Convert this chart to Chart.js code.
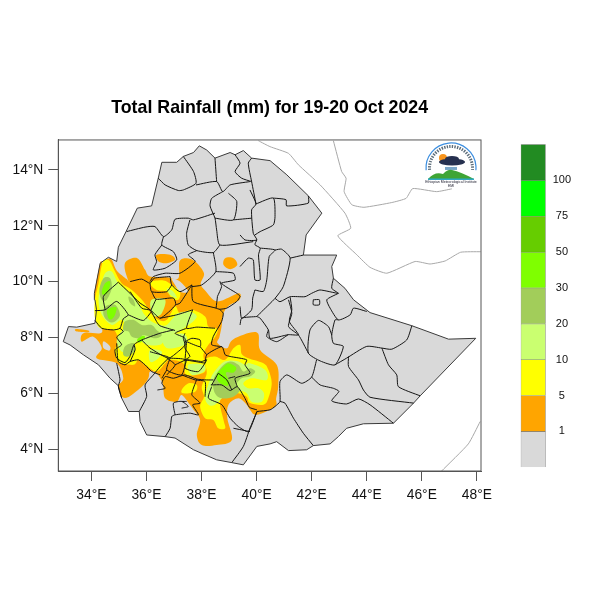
<!DOCTYPE html>
<html>
<head>
<meta charset="utf-8">
<title>Total Rainfall</title>
<script src="https://cdn.jsdelivr.net/npm/chart.js@4"></script>
<style>
html, body { margin: 0; background: #fff; }
canvas { position: absolute; }
</style>
</head>
<body>
<canvas id="mapChart" width="600" height="600" style="left:0;top:0"></canvas>
<canvas id="barChart" width="100" height="350" style="left:500px;top:130px"></canvas>
<script>
// axis ticks, degrees
const lonTicks = [34, 36, 38, 40, 42, 44, 46, 48];
const latTicks = [4, 6, 8, 10, 12, 14];

// colour bar
const barLabels = ['1', '5', '10', '20', '30', '50', '75', '100'];
const barColors = ['#d9d9d9', '#ffa500', '#ffff00', '#caff70', '#a2cd5a', '#7fff00', '#66cd00', '#00ff00', '#228b22'];

// country outline [lon, lat]
const ethiopia = [[34.98,11.23],[35.26,11.79],[35.67,12.63],[36.19,12.71],[36.43,13.70],[36.56,14.27],[37.10,14.27],[37.34,14.48],[37.71,14.62],[37.92,14.86],[38.19,14.71],[38.49,14.42],[39.04,14.62],[39.22,14.54],[39.52,14.69],[39.82,14.42],[40.49,14.33],[41.10,13.82],[41.88,13.07],[42.37,12.45],[41.80,11.67],[41.70,10.95],[42.91,10.95],[42.73,10.54],[42.79,10.12],[43.21,9.76],[43.52,9.35],[44.12,8.89],[45.64,8.42],[46.97,7.94],[47.96,7.97],[45.94,5.91],[45.70,5.65],[44.97,4.93],[43.88,4.91],[43.27,4.75],[42.97,4.45],[42.67,4.19],[42.06,4.13],[41.82,3.98],[41.16,3.95],[40.73,4.27],[40.49,4.19],[40.01,4.10],[39.52,3.44],[39.10,3.52],[38.55,3.62],[37.71,3.98],[37.04,4.40],[36.68,4.45],[36.01,4.51],[35.77,4.99],[35.74,5.35],[35.35,5.35],[35.10,5.83],[34.98,6.27],[34.68,6.54],[34.26,7.02],[33.71,7.38],[33.23,7.73],[32.98,7.85],[33.17,8.39],[33.47,8.37],[34.13,8.51],[34.19,8.99],[34.13,9.35],[34.11,9.58],[34.32,10.66],[34.62,10.87],[34.92,10.72],[34.98,11.23]];

// neighbouring coast and border lines
const neighbourLines = [
  [[40.07,15.04],[40.49,14.83],[41.16,14.59],[41.52,14.18],[42.31,13.46],[43.21,12.45],[43.42,11.91],[42.95,11.64],[43.64,10.96],[44.12,10.51],[44.73,10.30],[45.76,10.72],[46.30,10.63],[46.85,10.74],[47.41,11.05],[48.14,11.07]],
  [[42.79,15.04],[43.09,13.94],[43.25,13.70],[43.18,13.22],[43.46,12.75],[43.90,12.66],[44.91,12.83],[45.43,12.98],[45.67,13.33],[46.54,13.22],[47.09,13.32]],
  [[46.72,3.22],[47.69,4.19],[48.12,4.99]]
];

// rainfall areas by class
const orangeAreas = [
  [[34.41,10.66],[34.56,10.80],[34.74,10.78],[34.92,10.40],[35.28,10.09],[35.35,10.0],[35.22,10.42],[35.26,10.72],[35.67,10.84],[35.95,10.42],[36.13,10.18],[36.74,10.16],[37.16,10.12],[37.20,10.72],[37.46,10.84],[37.77,10.72],[38.09,10.30],[37.97,9.92],[38.13,9.68],[38.58,9.29],[39.34,9.58],[39.38,9.35],[39.04,9.17],[38.86,8.99],[38.77,8.75],[38.73,8.39],[38.65,8.01],[38.58,7.80],[38.92,7.61],[39.16,7.94],[40.01,8.18],[40.13,7.55],[40.73,7.02],[40.79,6.30],[40.71,5.82],[40.67,5.53],[40.01,5.23],[39.76,5.41],[39.64,5.59],[39.34,5.82],[38.98,5.59],[38.94,5.11],[39.10,4.33],[38.55,4.15],[38.01,4.15],[37.83,4.51],[37.95,5.05],[37.71,5.41],[37.58,5.59],[37.28,5.94],[37.10,5.70],[36.68,5.82],[36.59,6.36],[36.37,6.72],[36.13,6.78],[36.07,6.54],[35.83,6.24],[35.22,5.83],[34.98,6.24],[35.16,6.54],[34.92,7.08],[34.19,7.26],[34.38,7.62],[34.07,8.03],[33.65,7.85],[33.71,8.15],[34.32,8.15],[34.38,8.33],[34.19,8.63],[34.19,8.99],[34.13,9.35],[34.11,9.58],[34.32,10.66]],
  [[33.44,8.30],[33.89,8.25],[33.86,8.18],[33.47,8.21]],
  [[36.37,10.96],[36.86,10.96],[37.04,10.78],[36.74,10.66],[36.44,10.72]],
  [[38.86,10.84],[39.16,10.84],[39.30,10.60],[39.04,10.44],[38.80,10.60]]
];
const dryPatches = [
  [[34.44,7.86],[34.68,7.68],[34.65,7.53],[34.44,7.62]],
  [[36.92,10.12],[37.22,10.00],[37.52,9.64],[37.22,9.64],[37.04,9.88]]
];
const yellowAreas = [
  [[34.50,10.78],[34.68,10.72],[34.86,10.36],[35.10,9.94],[35.47,9.70],[35.89,9.29],[36.16,8.87],[36.44,8.63],[36.74,8.63],[37.04,9.11],[37.22,8.87],[37.65,8.99],[38.13,8.75],[38.25,8.39],[38.58,8.30],[38.49,8.01],[38.25,7.74],[38.07,7.38],[38.13,6.78],[37.46,6.66],[37.34,7.08],[36.86,7.20],[36.68,7.08],[36.37,6.78],[35.95,7.02],[35.71,7.20],[35.53,7.02],[34.98,7.14],[34.86,7.56],[34.98,7.79],[34.95,8.03],[34.80,8.27],[34.32,8.33],[34.13,8.69],[34.13,9.35],[34.26,9.94],[34.38,10.60]],
  [[38.13,7.20],[38.49,7.32],[38.86,7.20],[39.16,7.61],[39.40,7.73],[39.46,7.41],[39.70,7.26],[40.25,7.08],[40.43,6.84],[40.55,6.36],[40.43,5.83],[40.25,5.59],[39.76,5.65],[39.64,5.88],[39.34,6.00],[38.98,5.94],[38.67,5.71],[38.80,5.05],[38.86,4.75],[38.61,4.75],[38.43,5.05],[38.13,5.11],[37.95,5.53],[38.09,5.88],[38.01,6.24],[38.19,6.72]],
  [[36.13,9.97],[36.62,10.04],[36.92,9.88],[37.22,9.64],[37.16,9.35],[36.92,9.41],[36.74,9.64],[36.37,9.70]],
  [[37.28,6.12],[37.53,6.36],[37.83,6.30],[37.77,6.06],[37.34,6.00]]
];
const limeAreas = [
  [[34.50,10.30],[34.74,10.36],[34.98,9.94],[35.35,9.64],[35.71,9.23],[35.89,8.87],[36.19,8.57],[36.50,8.45],[36.74,8.45],[37.04,8.75],[37.52,8.87],[37.71,8.69],[37.40,8.37],[37.04,8.15],[36.74,8.01],[36.50,7.74],[36.01,7.74],[35.77,7.91],[35.59,7.80],[35.35,7.56],[35.10,7.50],[34.92,7.85],[35.04,8.15],[35.22,8.39],[35.10,8.63],[34.74,8.45],[34.38,8.81],[34.26,9.35],[34.38,9.94]],
  [[36.62,8.03],[37.34,8.13],[37.46,7.79],[36.98,7.61],[36.68,7.67]],
  [[37.52,7.02],[38.07,7.02],[38.09,6.78],[37.65,6.66]],
  [[36.13,7.55],[36.56,7.49],[36.37,7.20],[36.13,7.14]],
  [[38.43,6.72],[38.74,7.08],[38.98,7.17],[39.34,7.14],[39.58,7.02],[39.76,7.08],[40.31,6.84],[40.37,6.48],[39.82,6.54],[39.52,6.36],[39.70,6.18],[40.07,6.18],[40.27,6.00],[40.19,5.70],[39.82,5.70],[39.64,6.00],[39.34,6.10],[39.04,6.06],[38.74,5.82],[38.49,5.59],[38.25,5.59],[38.13,5.88],[38.29,6.42]],
  [[36.74,9.76],[36.98,9.64],[37.10,9.41],[36.86,9.53]],
  [[36.19,9.35],[36.68,9.35],[36.56,8.87],[36.31,8.75],[36.16,8.99]],
  [[37.04,8.81],[37.52,8.93],[37.83,8.75],[37.52,8.45],[37.16,8.45]]
];
const oliveAreas = [
  [[34.44,10.12],[34.68,10.12],[34.74,9.76],[34.56,9.35],[34.38,9.35],[34.29,9.70]],
  [[34.50,9.11],[34.86,9.17],[35.04,8.81],[34.86,8.57],[34.62,8.57],[34.44,8.81]],
  [[35.35,9.46],[35.53,9.35],[35.59,9.11],[35.41,9.23]],
  [[35.22,8.57],[35.53,8.63],[35.83,8.45],[36.19,8.45],[36.37,8.27],[36.56,8.09],[36.31,7.97],[35.89,8.09],[35.77,7.97],[35.47,8.03],[35.35,8.21],[35.16,8.27]],
  [[35.22,7.68],[35.53,7.80],[35.59,7.56],[35.35,7.32],[35.16,7.38]],
  [[38.74,6.96],[39.04,7.14],[39.34,7.02],[39.52,6.78],[39.76,6.90],[39.95,6.78],[39.76,6.60],[39.46,6.54],[39.26,6.30],[39.40,6.12],[39.16,5.88],[38.74,5.82],[38.49,6.00],[38.43,6.48]]
];
const brightAreas = [
  [[34.50,9.94],[34.68,10.0],[34.62,9.64],[34.44,9.53],[34.38,9.64]],
  [[34.58,8.99],[34.90,9.08],[34.86,8.81],[34.74,8.65],[34.62,8.69]],
  [[35.67,7.94],[35.87,8.06],[35.95,8.01],[35.83,7.86],[35.71,7.82]],
  [[38.80,6.96],[38.98,7.08],[39.26,6.93],[39.16,6.74],[38.89,6.74],[39.01,6.36],[38.86,6.27],[38.61,6.42],[38.55,6.68]]
];

// admin boundaries
const adminLines = [
  [[37.34,14.48],[37.71,13.94],[37.80,13.52],[37.34,13.28],[37.16,13.26],[36.68,13.46],[36.43,13.70]],
  [[37.80,13.46],[38.55,13.58],[38.77,13.22],[39.04,13.46],[39.76,13.58]],
  [[38.49,14.42],[38.55,13.58]],
  [[39.22,14.54],[39.40,14.24],[39.22,13.94],[39.46,13.70],[39.82,13.58]],
  [[39.82,14.42],[39.70,14.24],[39.82,13.58],[39.98,12.78]],
  [[38.77,13.22],[38.37,12.98],[38.31,12.71],[38.49,12.27],[38.55,11.85],[38.67,11.31],[39.88,11.43]],
  [[38.98,13.16],[39.28,12.87],[39.16,12.21],[38.49,12.27]],
  [[39.16,12.21],[39.82,12.27]],
  [[38.49,12.45],[37.71,12.21],[37.52,12.27],[37.04,12.23],[36.92,11.85],[36.62,11.61],[36.31,11.97],[35.95,11.95],[35.28,11.79]],
  [[37.58,12.21],[37.46,11.73],[37.52,11.31],[37.83,11.11],[38.43,11.04],[38.67,11.31]],
  [[36.62,11.61],[36.56,11.31],[36.98,11.07],[37.10,10.78],[36.68,10.48],[36.25,10.42],[36.37,10.72],[36.31,10.96],[36.56,11.31]],
  [[37.83,11.11],[37.52,10.96],[37.77,10.72],[37.22,10.30],[36.68,10.30],[36.25,10.18],[36.13,10.0]],
  [[38.43,11.04],[38.52,10.36],[38.01,9.88],[37.65,9.82]],
  [[38.52,10.36],[39.16,10.30],[39.22,10.06],[38.73,9.94],[39.28,9.58],[39.40,9.47],[39.28,9.29],[38.92,9.05],[38.65,9.01],[38.53,9.05],[37.70,9.29],[37.65,9.88]],
  [[39.76,13.28],[39.98,12.78],[39.82,12.57],[39.88,11.73],[40.01,11.49],[39.58,11.49],[39.40,11.67]],
  [[39.98,12.78],[40.61,12.99],[40.67,12.33],[40.61,12.03],[40.13,11.79],[39.94,11.67]],
  [[40.61,12.99],[41.07,12.93],[41.09,12.71],[41.88,12.81],[41.88,13.07]],
  [[40.01,11.49],[39.94,11.32],[40.13,11.20],[40.07,10.96],[40.13,10.06],[39.94,10.06],[39.88,10.78],[39.70,10.84],[39.40,10.54]],
  [[40.13,11.20],[40.67,11.13],[40.46,10.90],[40.37,10.06],[40.25,9.65],[39.94,9.70]],
  [[40.67,11.13],[40.91,11.16],[41.22,10.84],[40.97,9.82],[40.67,9.40],[40.13,8.87],[40.01,8.75]],
  [[41.22,10.84],[41.70,10.95]],
  [[39.94,9.70],[39.86,9.41],[39.82,8.99],[39.46,8.69],[39.40,9.11]],
  [[40.01,8.75],[39.46,8.69],[39.40,8.45]],
  [[42.79,10.12],[42.73,9.76],[42.97,9.58],[42.30,9.70],[42.00,9.58],[41.76,9.46],[41.22,9.46],[40.85,9.28],[40.67,9.40]],
  [[41.22,9.44],[41.28,8.99],[41.19,8.57],[41.52,8.10],[41.15,8.10],[40.49,7.97],[40.43,8.27],[40.13,8.69],[40.01,8.75]],
  [[42.97,9.58],[42.55,9.35],[42.67,9.05],[42.97,8.63],[43.40,8.81],[43.52,9.05],[44.00,8.93]],
  [[42.97,8.63],[42.85,8.63],[42.73,8.09],[42.79,7.79],[43.15,7.68],[42.85,7.02],[42.31,7.16],[41.88,7.44],[41.94,8.27],[42.25,8.61],[42.61,8.39],[42.73,8.09]],
  [[41.16,9.35],[41.28,8.87],[41.16,8.39],[41.52,8.09],[41.88,7.44]],
  [[42.85,7.02],[43.27,7.26],[44.00,7.68],[44.55,7.62],[44.91,7.58],[45.45,7.91],[45.64,8.42]],
  [[44.55,7.62],[44.79,7.02],[45.09,6.66],[45.15,6.24],[45.94,5.91]],
  [[43.34,7.32],[43.34,6.96],[43.70,6.48],[43.88,6.12],[44.12,5.86],[45.70,5.65]],
  [[42.18,7.20],[42.00,6.58],[41.64,6.36],[41.10,6.66],[40.85,6.42],[40.85,5.71],[40.67,5.53],[40.49,5.41],[40.01,5.35]],
  [[42.00,6.58],[42.31,6.30],[42.79,6.18],[42.99,6.07],[42.73,5.73],[43.27,5.62],[43.70,5.80],[44.12,5.59],[44.97,4.93]],
  [[40.85,5.71],[41.03,5.65],[41.34,5.11],[41.70,4.57],[42.06,4.13]],
  [[42.06,9.35],[42.28,9.35],[42.28,9.17],[42.06,9.17],[42.06,9.35]],
  [[40.43,8.27],[40.37,8.03],[40.73,7.85],[41.15,8.10]],
  [[40.01,5.41],[39.74,5.50],[39.58,5.82],[39.30,6.24],[39.04,6.10],[38.74,6.30],[38.34,6.30]],
  [[39.30,6.24],[39.22,6.54],[39.76,6.72],[39.58,7.02],[39.64,7.20],[39.04,7.32],[38.86,7.38],[38.74,7.67],[38.19,7.38],[38.13,7.08]],
  [[38.61,6.72],[38.92,6.48],[39.10,6.12]],
  [[38.61,6.72],[38.37,6.30]],
  [[38.98,6.54],[39.22,6.60]],
  [[40.01,5.35],[39.70,4.63],[39.34,4.81],[39.04,5.11],[38.74,5.59],[38.25,5.83],[38.37,6.24]],
  [[40.01,5.33],[39.76,4.75],[39.52,4.10],[39.10,3.52]],
  [[39.16,4.75],[39.76,4.63]],
  [[35.74,5.35],[36.01,5.89],[35.95,6.30],[36.25,6.66],[36.50,6.96],[36.80,7.26]],
  [[36.68,4.45],[36.86,4.75],[36.92,5.17],[37.04,5.23],[37.58,5.29],[37.89,5.23],[37.68,5.59],[37.95,5.65],[37.65,5.95],[37.83,6.51]],
  [[37.04,5.23],[36.98,5.65],[37.28,5.71],[37.52,5.53],[37.28,5.47]],
  [[37.28,5.71],[37.46,5.71]],
  [[36.40,6.12],[36.68,6.18],[36.56,6.36],[36.68,6.60],[36.98,6.54],[37.40,6.66],[37.83,6.51],[38.19,6.48],[38.43,6.48]],
  [[36.74,7.26],[37.04,7.02],[36.74,6.66]],
  [[37.04,7.02],[37.46,7.20],[38.01,7.14],[38.19,7.20],[37.89,6.78],[37.40,6.90],[37.46,7.20]],
  [[34.13,8.96],[34.50,8.99],[34.92,9.29],[35.34,8.81],[35.16,8.67],[35.04,8.33],[34.80,8.27],[34.38,8.33],[34.13,8.61]],
  [[34.98,9.98],[34.44,9.47],[34.50,8.99]],
  [[34.98,9.98],[35.34,9.64],[35.77,9.23],[36.13,8.99],[36.37,8.57],[36.49,8.42],[37.04,8.25]],
  [[35.34,8.81],[35.89,8.61],[36.19,8.93]],
  [[35.04,8.33],[35.16,8.21],[34.92,8.01],[35.10,7.74],[34.86,7.56],[34.92,7.26],[35.22,7.10],[35.40,7.32],[35.55,7.74],[35.83,7.91],[36.49,8.15],[36.98,8.27]],
  [[34.92,7.79],[34.98,7.14],[35.22,7.02],[35.41,7.14],[35.71,7.20],[35.95,7.02],[36.19,6.78],[36.50,6.66]],
  [[34.92,7.08],[35.04,6.48],[34.98,6.24],[35.10,5.83]],
  [[35.55,7.74],[35.59,7.56],[35.41,7.14]],
  [[35.83,7.91],[35.95,7.79],[36.13,7.62],[36.80,7.26],[37.16,7.50],[37.40,7.73],[37.34,7.97],[37.40,8.15]],
  [[35.41,10.0],[35.83,10.09],[36.13,9.94],[36.28,10.12],[36.86,10.18]],
  [[36.86,10.18],[36.92,9.88],[37.22,9.64],[37.65,9.88]],
  [[36.13,9.94],[36.19,9.64],[36.74,9.64],[36.92,9.88]],
  [[36.19,9.64],[36.35,9.37],[36.98,9.41],[37.06,9.17],[36.50,8.69],[36.16,8.97],[35.83,9.05],[35.41,9.64]],
  [[36.16,8.97],[36.35,9.37]],
  [[37.06,9.17],[37.22,9.23],[37.65,9.88]],
  [[38.58,9.47],[38.53,9.05]],
  [[38.73,9.94],[38.67,10.0],[38.73,9.82],[38.58,9.47]],
  [[38.65,9.01],[38.79,8.87],[38.73,8.57],[38.43,8.04],[38.37,7.74],[38.74,7.67]],
  [[37.68,8.99],[37.46,8.33],[37.83,8.37],[38.49,8.33]],
  [[36.50,8.69],[37.10,8.81],[37.68,8.99]],
  [[37.46,8.33],[37.04,8.15],[37.40,7.97],[37.40,7.62],[37.58,7.32],[37.40,7.20]],
  [[36.86,7.26],[37.40,7.20],[37.28,6.66],[36.74,6.84],[36.86,7.26]],
  [[37.40,7.20],[38.13,7.08]],
  [[37.28,6.66],[37.77,6.48],[38.13,6.42],[38.13,5.88]],
  [[36.74,6.84],[36.56,6.54]],
  [[36.13,7.49],[36.74,7.32],[36.86,7.26]],
  [[37.46,7.85],[37.40,7.20]],
  [[37.46,7.85],[37.95,7.67],[37.95,7.91],[37.65,7.97],[37.40,7.85]],
  [[37.95,7.67],[38.19,7.38]]
];

const layers = [
  { areas: [ethiopia], color: '#d9d9d9', smooth: false },
  { areas: orangeAreas, color: barColors[1], smooth: true },
  { areas: dryPatches, color: barColors[0], smooth: true },
  { areas: yellowAreas, color: barColors[2], smooth: true },
  { areas: limeAreas, color: barColors[3], smooth: true },
  { areas: oliveAreas, color: barColors[4], smooth: true },
  { areas: brightAreas, color: barColors[5], smooth: true }
];

function toPoints(list) {
  return list.map(p => ({ x: p[0], y: p[1] }));
}

const mapDatasets = [];
layers.forEach(layer => {
  layer.areas.forEach(area => {
    mapDatasets.push({ data: toPoints(area), showLine: false, pointRadius: 0, areaFill: layer.color, areaSmooth: layer.smooth });
  });
});
function addLines(lines, color, width, tension) {
  lines.forEach(line => {
    mapDatasets.push({ data: toPoints(line), showLine: true, pointRadius: 0, borderColor: color, borderWidth: width, tension: tension });
  });
}
addLines(neighbourLines, '#a8a8a8', 1, 0.15);
addLines([ethiopia], '#3a3a3a', 1, 0);
addLines(adminLines, '#151515', 1, 0.2);
// first dataset is at the back
mapDatasets.forEach((ds, i) => { ds.order = mapDatasets.length - i; });

const areaFill = {
  id: 'areaFill',
  beforeDatasetDraw(chart, args) {
    const ds = chart.data.datasets[args.index];
    if (!ds.areaFill) return;
    const pts = args.meta.data;
    const n = pts.length;
    const ctx = chart.ctx;
    ctx.save();
    ctx.fillStyle = ds.areaFill;
    ctx.beginPath();
    ctx.moveTo(pts[0].x, pts[0].y);
    for (let i = 0; i < n; i++) {
      const p0 = pts[(i - 1 + n) % n], p1 = pts[i], p2 = pts[(i + 1) % n], p3 = pts[(i + 2) % n];
      if (ds.areaSmooth) {
        // closed curve through the vertices
        ctx.bezierCurveTo(p1.x + (p2.x - p0.x) / 6, p1.y + (p2.y - p0.y) / 6, p2.x - (p3.x - p1.x) / 6, p2.y - (p3.y - p1.y) / 6, p2.x, p2.y);
      } else {
        ctx.lineTo(p2.x, p2.y);
      }
    }
    ctx.closePath();
    ctx.fill();
    ctx.restore();
  }
};

const frameAndLogo = {
  id: 'frameAndLogo',
  afterDraw(chart) {
    const ctx = chart.ctx;
    const a = chart.chartArea;
    ctx.save();
    ctx.strokeStyle = '#555';
    ctx.lineWidth = 1;
    ctx.strokeRect(a.left, a.top, a.right - a.left, a.bottom - a.top);

    // logo, top right of the frame
    const cx = a.right - 30, cy = a.top + 28;
    ctx.lineWidth = 1.2;
    ctx.strokeStyle = '#3d8fe0';
    ctx.beginPath();
    ctx.arc(cx, cy, 25, Math.PI * 0.97, Math.PI * 2.03);
    ctx.stroke();
    ctx.lineWidth = 3;
    ctx.strokeStyle = '#5d6d7a';
    ctx.setLineDash([1.4, 1.2]);
    ctx.beginPath();
    ctx.arc(cx, cy, 21.5, Math.PI * 0.97, Math.PI * 2.03);
    ctx.stroke();
    ctx.setLineDash([]);
    ctx.fillStyle = '#f7941d';
    ctx.beginPath();
    ctx.arc(cx - 8, cy - 10, 4, 0, Math.PI * 2);
    ctx.fill();
    ctx.fillStyle = '#26304f';
    ctx.beginPath();
    ctx.ellipse(cx + 1, cy - 6, 13, 3.5, 0, 0, Math.PI * 2);
    ctx.ellipse(cx + 1, cy - 9, 7, 3, 0, 0, Math.PI * 2);
    ctx.fill();
    ctx.fillStyle = '#7aa6c8';
    ctx.fillRect(cx - 6, cy - 1, 12, 3);
    ctx.fillStyle = '#3fa535';
    ctx.beginPath();
    ctx.moveTo(cx - 23, cy + 11);
    ctx.quadraticCurveTo(cx - 16, cy + 3, cx - 8, cy + 6);
    ctx.quadraticCurveTo(cx - 3, cy + 1, cx + 1, cy + 2);
    ctx.quadraticCurveTo(cx + 10, cy + 4, cx + 23, cy + 11);
    ctx.closePath();
    ctx.fill();
    ctx.fillStyle = '#2aa6c0';
    ctx.fillRect(cx - 23, cy + 10.5, 46, 1.5);
    ctx.fillStyle = '#223';
    ctx.font = '3.5px "Liberation Sans"';
    ctx.textAlign = 'center';
    ctx.textBaseline = 'middle';
    ctx.fillText('Ethiopian Meteorological Institute', cx, cy + 14.5);
    ctx.fillText('EMI', cx, cy + 18);
    ctx.restore();
  }
};

const tickFont = { family: '"Liberation Sans"', size: 13.8 };

new Chart(document.getElementById('mapChart').getContext('2d'), {
  type: 'scatter',
  data: { datasets: mapDatasets },
  plugins: [areaFill, frameAndLogo],
  options: {
    responsive: false,
    animation: false,
    events: [],
    layout: { padding: { right: 119 } },
    plugins: {
      legend: { display: false },
      tooltip: { enabled: false },
      title: {
        display: true,
        fullSize: false,
        text: 'Total Rainfall (mm) for 19-20 Oct 2024',
        color: '#000',
        font: { family: '"Liberation Sans"', size: 17.8, weight: 'bold', lineHeight: 1.2 },
        padding: { top: 97.3, bottom: 21.3 }
      }
    },
    scales: {
      x: {
        type: 'linear',
        min: 32.8,
        max: 48.15,
        border: { color: '#555' },
        grid: { drawOnChartArea: false, color: '#555', tickLength: 10 },
        ticks: {
          color: '#111',
          font: tickFont,
          padding: 6,
          autoSkip: false,
          maxRotation: 0,
          callback: v => v + '°E'
        },
        afterBuildTicks: scale => { scale.ticks = lonTicks.map(v => ({ value: v })); },
        afterFit: scale => { scale.height = 129; scale.paddingLeft = 0; scale.paddingRight = 0; }
      },
      y: {
        type: 'linear',
        min: 3.22,
        max: 15.07,
        border: { color: '#555' },
        grid: { drawOnChartArea: false, color: '#555', tickLength: 10 },
        ticks: {
          color: '#111',
          font: tickFont,
          padding: 5,
          autoSkip: false,
          callback: v => v + '°N'
        },
        afterBuildTicks: scale => { scale.ticks = latTicks.map(v => ({ value: v })); },
        afterFit: scale => { scale.width = 58.3; scale.paddingTop = 0; scale.paddingBottom = 0; }
      }
    }
  }
});

new Chart(document.getElementById('barChart').getContext('2d'), {
  type: 'bar',
  data: {
    labels: [''],
    datasets: barColors.map(color => ({
      data: [1],
      backgroundColor: color,
      borderColor: 'rgba(60,60,60,0.55)',
      borderWidth: 0.8,
      categoryPercentage: 1,
      barPercentage: 1
    }))
  },
  options: {
    responsive: false,
    animation: false,
    events: [],
    layout: { padding: { left: 20.7, top: 14.3, bottom: 12.7 } },
    plugins: { legend: { display: false }, tooltip: { enabled: false } },
    scales: {
      x: { stacked: true, display: false },
      y: {
        stacked: true,
        position: 'right',
        min: 0,
        max: barColors.length,
        border: { display: false },
        grid: { display: false, drawTicks: false },
        ticks: {
          stepSize: 1,
          color: '#111',
          font: { family: '"Liberation Sans"', size: 11 },
          padding: 7,
          crossAlign: 'center',
          callback: v => barLabels[v - 1] || ''
        },
        afterFit: scale => { scale.width = 54.3; scale.paddingTop = 0; scale.paddingBottom = 0; }
      }
    }
  }
});
</script>
</body>
</html>
